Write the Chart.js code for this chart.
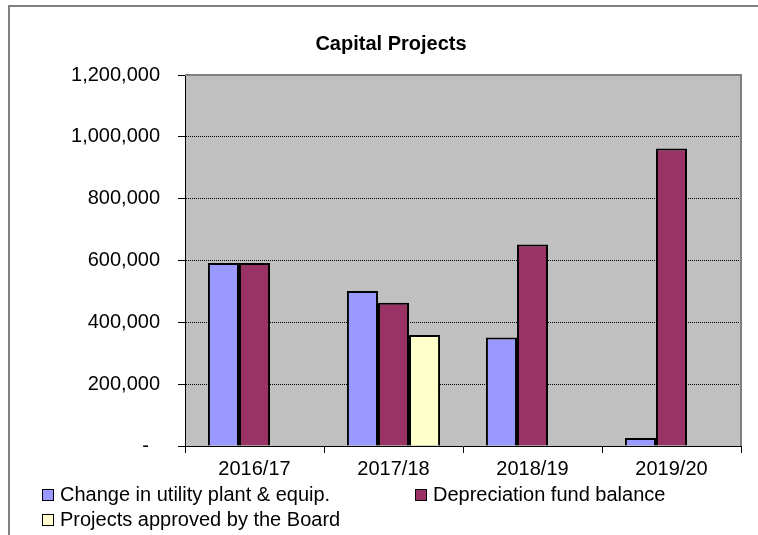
<!DOCTYPE html>
<html>
<head>
<meta charset="utf-8">
<script src="https://cdn.jsdelivr.net/npm/chart.js@4"></script>
<style>
  html, body { margin: 0; padding: 0; background: #fff; }
  #wrap { position: relative; width: 758px; height: 535px; }
</style>
</head>
<body>
<div id="wrap"><canvas id="chart" width="758" height="535"></canvas></div>
<script>
const chartTitle = "Capital Projects";
const years = ["2016/17", "2017/18", "2018/19", "2019/20"];
const plantChange = [592000, 501000, 351000, 26000];
const fundBalance = [592000, 463000, 652000, 962000];
const boardApproved = [null, 359000, null, null];
const yTicks = [0, 200000, 400000, 600000, 800000, 1000000, 1200000];

const FONT = "'Liberation Sans', Arial, sans-serif";

// grey plot area + frame like the Excel original
const plotFrame = {
  id: "plotFrame",
  beforeDraw(chart) {
    const { ctx, chartArea: a } = chart;
    ctx.save();
    ctx.fillStyle = "#c0c0c0";
    ctx.fillRect(a.left, a.top, a.right - a.left, a.bottom - a.top);
    // outer chart border (top, left)
    ctx.strokeStyle = "#808080";
    ctx.lineWidth = 2;
    ctx.beginPath();
    ctx.moveTo(9, 535);
    ctx.lineTo(9, 6);
    ctx.lineTo(758, 6);
    ctx.stroke();
    // title
    ctx.fillStyle = "#000";
    ctx.font = "bold 20px " + FONT;
    ctx.textAlign = "center";
    ctx.textBaseline = "middle";
    ctx.fillText(chartTitle, 391, 44);
    ctx.restore();
  },
  afterDraw(chart) {
    const { ctx, chartArea: a } = chart;
    ctx.save();
    ctx.strokeStyle = "#808080";
    ctx.lineWidth = 2;
    ctx.beginPath();
    ctx.moveTo(a.left, a.top);
    ctx.lineTo(a.right, a.top);
    ctx.lineTo(a.right, a.bottom);
    ctx.stroke();
    ctx.restore();
  }
};

// two-column legend below the axis
const sideLegend = {
  id: "sideLegend",
  afterDraw(chart) {
    const { ctx } = chart;
    const spots = [[42, 495], [415, 495], [42, 520]];
    ctx.save();
    ctx.font = "20px " + FONT;
    ctx.textBaseline = "middle";
    ctx.textAlign = "left";
    chart.data.datasets.forEach((ds, i) => {
      const [x, y] = spots[i];
      ctx.fillStyle = ds.backgroundColor;
      ctx.fillRect(x, y - 6, 12, 12);
      ctx.strokeStyle = "#000";
      ctx.lineWidth = 1;
      ctx.strokeRect(x + 0.5, y - 5.5, 11, 11);
      ctx.fillStyle = "#000";
      ctx.fillText(ds.label, x + 18, y);
    });
    ctx.restore();
  }
};

new Chart(document.getElementById("chart"), {
  type: "bar",
  data: {
    labels: years,
    datasets: [
      { label: "Change in utility plant & equip.", data: plantChange, backgroundColor: "#9999ff" },
      { label: "Depreciation fund balance", data: fundBalance, backgroundColor: "#993366" },
      { label: "Projects approved by the Board", data: boardApproved, backgroundColor: "#ffffcc" }
    ]
  },
  options: {
    responsive: false,
    animation: false,
    layout: { padding: { left: 0, right: 17, top: 75, bottom: 0 } },
    datasets: {
      bar: {
        borderColor: "#000",
        borderWidth: 2,
        categoryPercentage: 0.67,
        barPercentage: 1
      }
    },
    plugins: {
      legend: { display: false },
      tooltip: { enabled: false },
      title: { display: false }
    },
    scales: {
      x: {
        afterFit(scale) { scale.height = 89; },
        grid: { offset: true, drawOnChartArea: false, drawTicks: true, tickLength: 7, color: "#000" },
        border: { display: true, color: "#000", width: 1 },
        ticks: { color: "#000", padding: 4, font: { family: FONT, size: 20 } }
      },
      y: {
        min: 0,
        max: 1200000,
        afterFit(scale) { scale.width = 185; },
        afterBuildTicks(scale) { scale.ticks = yTicks.map(v => ({ value: v })); },
        grid: {
          drawTicks: true,
          tickLength: 7,
          tickColor: "#000",
          color: c => (c.tick && (c.tick.value === 0 || c.tick.value === 1200000)) ? "rgba(0,0,0,0)" : "#000"
        },
        border: { display: true, color: "#000", width: 1, dash: [1, 1] },
        ticks: {
          color: "#000",
          padding: 18,
          font: { family: FONT, size: 20 },
          callback: v => v === 0 ? "-  " : v.toLocaleString("en-US")
        }
      }
    }
  },
  plugins: [plotFrame, sideLegend]
});
</script>
</body>
</html>
